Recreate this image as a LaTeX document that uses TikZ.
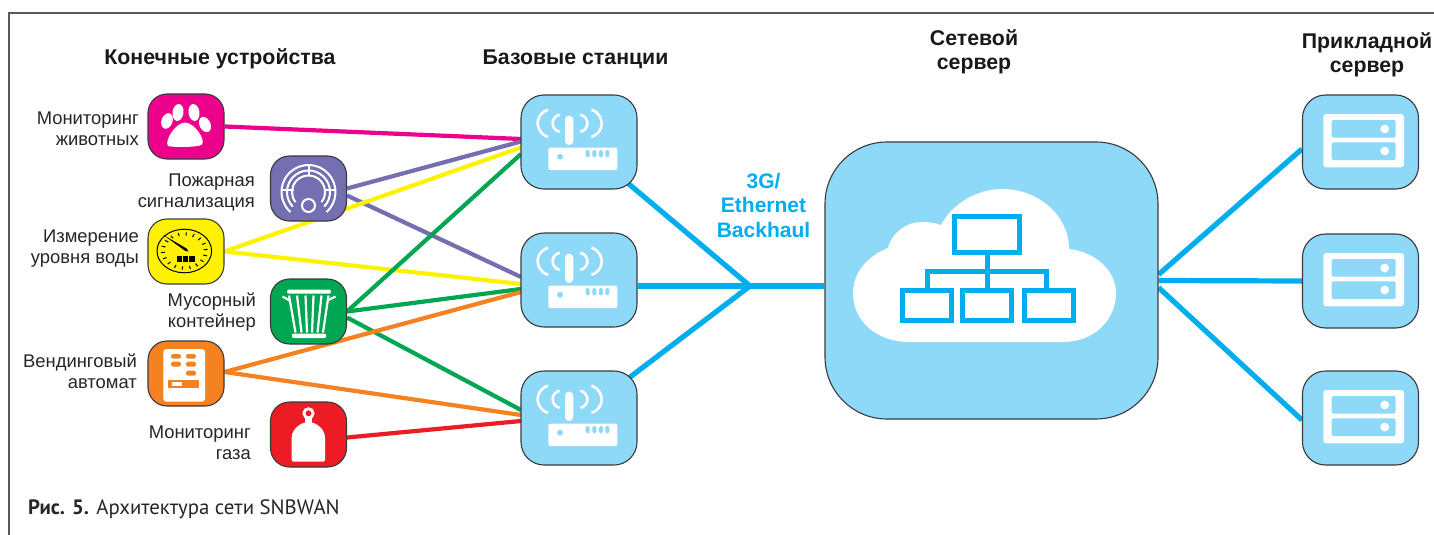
\documentclass[tikz,border=0pt]{standalone}
\usepackage{fontspec}
\setmainfont{Liberation Sans}
\newfontfamily\capfont{PT Sans}
\pgfdeclarelayer{bg}
\pgfsetlayers{bg,main}
\definecolor{cpink}{HTML}{EC008C}
\definecolor{cpurple}{HTML}{746FB1}
\definecolor{cyell}{HTML}{FFF200}
\definecolor{cgreen}{HTML}{00A651}
\definecolor{corange}{HTML}{F58220}
\definecolor{cred}{HTML}{ED1C24}
\definecolor{clight}{HTML}{8ED8F8}
\definecolor{cblue}{HTML}{00AEEF}
\definecolor{cedge}{HTML}{3A3A3C}
\tikzset{
 device/.style={draw=cedge,line width=1.1pt,rounded corners=19pt,minimum width=76pt,minimum height=65pt,inner sep=0pt,fill=#1},
 station/.style={draw=cedge,line width=1.1pt,rounded corners=23pt,minimum width=116pt,minimum height=94pt,inner sep=0pt,fill=clight},
 lab/.style={anchor=east,align=right,inner sep=0pt,font=\fontsize{18.4}{21}\selectfont,text=black!85},
 head/.style={align=center,inner sep=0pt,font=\fontsize{21.3}{24}\selectfont\bfseries,text=black!90},
 link/.style={line width=4.2pt},
 back/.style={line width=5.2pt,cblue},
 wline/.style={white,line width=2pt},
 pics/baseicon/.style={code={
  \fill[white,rounded corners=4pt] (-14,-26.3) rectangle (-5.7,3);
  \fill[white,rounded corners=2pt] (-30.7,5.7) rectangle (38.3,28);
  \fill[clight] (-19,14.7) circle (3);
  \foreach \bx in {8.7,15.3,22,28.3}{\fill[clight,rounded corners=1.5pt] (\bx-2,8) rectangle (\bx+2,15.3);}
  \draw[white,line width=2.6pt] (-27.3,-18.7) ++(105:14) arc (105:255:14);
  \draw[white,line width=2.6pt] (8.7,-18.7) ++(-75:14) arc (-75:75:14);
  \draw[white,line width=2.6pt] (-17.7,-18.7) ++(100:8.7) arc (100:260:8.7);
  \draw[white,line width=2.6pt] (-0.3,-18.7) ++(-80:8.7) arc (-80:80:8.7);
 }},
 pics/servicon/.style={code={
  \fill[white,rounded corners=3pt] (-37.2,-28) rectangle (43.5,25.3);
  \fill[clight,rounded corners=2pt] (-28.8,-22) rectangle (35.2,-4.3);
  \fill[clight,rounded corners=2pt] (-28.8,0.3) rectangle (35.2,18);
  \fill[white] (24.2,-13) circle (4.4);
  \fill[white] (24.2,9) circle (4.4);
 }},
}
\begin{document}
\begin{tikzpicture}[x=1pt,y=-1pt]
\useasboundingbox (0,0) rectangle (1434,535);
\begin{pgfonlayer}{bg}
\fill[white] (0,0) rectangle (1434,535);
\end{pgfonlayer}
\coordinate (fa) at (1434,13);
\coordinate (fb) at (8.5,13);
\coordinate (fc) at (8.5,535);
\draw[black!65,line width=2pt] (fa) -- (fb) -- (fc);

% devices
\node[device=cpink] (pink) at (186,126.5) {};
\node[device=cpurple] (purp) at (308.5,188.5) {};
\node[device=cyell] (yell) at (186,251.5) {};
\node[device=cgreen] (gree) at (308.5,311.5) {};
\node[device=corange] (oran) at (186,373.5) {};
\node[device=cred] (redd) at (308.5,434.5) {};
% stations
\node[station] (b1) at (579,142) {};
\node[station] (b2) at (579,280) {};
\node[station] (b3) at (579,418) {};
\node[station] (s1) at (1360.5,142) {};
\node[station] (s2) at (1360.5,281) {};
\node[station] (s3) at (1360.5,418) {};
\node[draw=cedge,line width=1.1pt,rounded corners=62pt,minimum width=333pt,minimum height=277pt,inner sep=0pt,fill=clight] (cloud) at (991.5,280.5) {};
\coordinate (hub) at (750,286);

% connector ends on the stations
\coordinate (b1a) at (521,139);
\coordinate (b1b) at (521,141.5);
\coordinate (b1c) at (521,147.5);
\coordinate (b1d) at (521,154);
\coordinate (b2a) at (521,277);
\coordinate (b2b) at (521,284);
\coordinate (b2c) at (521,289);
\coordinate (b2d) at (521,292);
\coordinate (b3a) at (521,410);
\coordinate (b3b) at (521,415);
\coordinate (b3c) at (521,421);

\begin{pgfonlayer}{bg}
\draw[link,cpink] (pink.east) -- (b1a);
\draw[link,cpurple] (purp.east) -- (b1b);
\draw[link,cpurple] ([yshift=-7pt]purp.east) -- (b2a);
\draw[link,cyell] (yell.east) -- (b1c);
\draw[link,cyell] (yell.east) -- (b2b);
\draw[link,cgreen] (gree.east) -- (b1d);
\draw[link,cgreen] (gree.east) -- (b2c);
\draw[link,cgreen] ([yshift=-6pt]gree.east) -- (b3a);
\draw[link,corange] ([yshift=1.5pt]oran.east) -- (b2d);
\draw[link,corange] ([yshift=1.5pt]oran.east) -- (b3b);
\draw[link,cred] ([yshift=-3pt]redd.east) -- (b3c);
\draw[back] (b1.center) -- (hub);
\draw[back] ([xshift=-10pt,yshift=39pt]b3.east) -- (hub);
\draw[back] (hub -| b2.east) -- (hub -| cloud.west);
\draw[back] ([yshift=6pt]cloud.east) -- ([yshift=-7pt]s1.west);
\draw[back] (cloud.east) -- (s2.west);
\draw[back] ([yshift=-7pt]cloud.east) -- ([yshift=-2pt]s3.west);
\end{pgfonlayer}

% headings and labels
\node[head] (h1) at (220,59) {Конечные устройства};
\node[head] (h2) at (575.5,59) {Базовые станции};
\node[head] (h3) at (974,52) {Сетевой\\сервер};
\node[head] (h4) at (1367,55) {Прикладной\\сервер};
\node[lab] (l1) at (139,128.5) {Мониторинг\\животных};
\node[lab] (l2) at (255,192.5) {Пожарная\\сигнализация};
\node[lab] (l3) at (139,248.5) {Измерение\\уровня воды};
\node[lab] (l4) at (256,312.5) {Мусорный\\контейнер};
\node[lab] (l5) at (137,371.5) {Вендинговый\\автомат};
\node[lab] (l6) at (251,442.5) {Мониторинг\\газа};
\node[align=center,inner sep=0pt,text=cblue,font=\fontsize{21}{24.5}\selectfont\bfseries] (bh) at (763.5,205) {3G/\\Ethernet\\Backhaul};
\node[anchor=west,inner sep=0pt,text=black!85,font=\capfont\fontsize{20.8}{21}\selectfont] (cap) at (28,509) {\textbf{Рис. 5.} Архитектура сети SNBWAN};

% paw
\begin{scope}[shift={(pink.center)},white]
 \fill[rotate around={-20:(-19,-5.5)}] (-19,-5.5) ellipse (5.5 and 8);
 \fill[rotate around={-8:(-8,-14)}] (-8,-14) ellipse (5.5 and 8.5);
 \fill[rotate around={8:(8,-14)}] (8,-14) ellipse (5.5 and 8.5);
 \fill[rotate around={25:(19,-2)}] (19,-2) ellipse (5.5 and 8);
 \fill (-18,19.5) .. controls (-22,14) and (-10,-4) .. (-1,-4) .. controls (8,-4) and (20,13) .. (16,18) .. controls (13,21) and (-13,21) .. (-18,19.5) -- cycle;
\end{scope}

% fire alarm
\begin{scope}[shift={(purp.center)},wline]
 \draw (0,3.5) ++(48:27) arc (48:-228:27);
 \draw (0,3.5) ++(43:21.5) arc (43:-223:21.5);
 \draw (0,3.5) ++(38:16.5) arc (38:-218:16.5);
 \draw (0,-23.5) -- (0,-13);
 \draw (-27,1) -- (-15,1);
 \draw (27,1) -- (15,1);
 \draw (0,17) circle (6.5);
\end{scope}

% gauge
\begin{scope}[shift={(yell.center)}]
 \draw[black,line width=1pt] (-1.7,-0.5) ellipse (27.3 and 21.8);
 \foreach \a in {-165,-145,-125,-105,-85,-65,-45,-25,-5,15,35,55,75,95,115,135,155,175}
  \draw[black,line width=1pt] (-1.7,-0.5) ++({23.5*cos(\a)},{18.6*sin(\a)}) -- ++({-4*cos(\a)},{-3.2*sin(\a)});
 \fill[black] (-22.7,-16.5) -- (0.6,-3) -- (2.5,0) -- (-1,-0.8) -- cycle;
 \fill[black] (-9.5,4) rectangle (-4,10);
 \fill[black] (-3.2,4) rectangle (2.3,10);
 \fill[black] (3,4) rectangle (8.5,10);
\end{scope}

% bin
\begin{scope}[shift={(gree.center)},white]
 \fill[rounded corners=2pt] (-21.5,-22) rectangle (22.5,-17.8);
 \fill[rounded corners=2pt] (-16.7,22.2) rectangle (17.8,26.5);
 \draw[line width=2.2pt] (-19.5,-16) -- (-13,21);
 \draw[line width=2.2pt] (-11.5,-16) -- (-7,21);
 \draw[line width=2.2pt] (-3,-16) -- (-1.5,21);
 \draw[line width=2.2pt] (5,-16) -- (3.5,21);
 \draw[line width=2.2pt] (13,-16) -- (9,21);
 \draw[line width=2.2pt] (20,-16) -- (14.5,21);
 \draw[line width=2.2pt] (-26,-15) -- (-19,-11);
 \draw[line width=2.2pt] (27,-15) -- (19,-11);
\end{scope}

% vending machine
\begin{scope}[shift={(oran.center)}]
 \fill[white,rounded corners=3pt] (-22.7,-24.5) rectangle (19,28.2);
 \fill[corange,rounded corners=2.3pt] (-15,-19.5) rectangle (-5,-14.8);
 \fill[corange,rounded corners=2.3pt] (0,-19.5) rectangle (10,-14.8);
 \fill[corange,rounded corners=2.3pt] (-15,-11.8) rectangle (-5,-6.8);
 \fill[corange,rounded corners=2.3pt] (0,-11.8) rectangle (10,-6.8);
 \fill[corange,rounded corners=2.3pt] (0,-2.8) rectangle (10,2.2);
 \fill[corange] (-18.3,6.5) rectangle (13.3,14.8);
 \fill[white] (-14.3,8.8) rectangle (-4.3,12.5);
\end{scope}

% gas cylinder
\begin{scope}[shift={(redd.center)},white]
 \draw[line width=2.8pt] (0,-21.2) circle (4.6);
 \fill (-3.5,-17) rectangle (3.5,-10);
 \fill[rounded corners=2pt] (-16.8,27.2) -- (-16.8,5) .. controls (-16.8,-5) and (-8,-12) .. (0,-12) .. controls (8,-12) and (16.5,-5) .. (16.5,5) -- (16.5,27.2) -- cycle;
\end{scope}

% station and server icons
\pic at (b1.center) {baseicon};
\pic at (b2.center) {baseicon};
\pic at (b3.center) {baseicon};
\pic at (s1.center) {servicon};
\pic at (s2.center) {servicon};
\pic at (s3.center) {servicon};

% cloud
\fill[white] (910,342) .. controls (875,342) and (853,320) .. (853,293)
 .. controls (853,272) and (868,256) .. (888,248)
 .. controls (892,232) and (907,222) .. (922,222)
 .. controls (929,222) and (935,223) .. (941,225)
 .. controls (952,204) and (977,189) .. (1002,189)
 .. controls (1039,189) and (1069,216) .. (1069,249)
 .. controls (1096,252) and (1116,271) .. (1116,293)
 .. controls (1116,320) and (1094,342) .. (1063,342) -- cycle;
\begin{scope}[cblue,line width=5pt]
 \draw (954.8,216.5) rectangle (1019.5,252.8);
 \draw (902.8,290.5) rectangle (951.8,320.8);
 \draw (962.8,290.5) rectangle (1011.5,320.8);
 \draw (1024.5,290.5) rectangle (1073.2,320.8);
 \draw (987.7,255) -- (987.7,288);
 \draw (927.3,288) -- (927.3,271.7) -- (1046,271.7) -- (1046,288);
\end{scope}
\end{tikzpicture}
\end{document}
